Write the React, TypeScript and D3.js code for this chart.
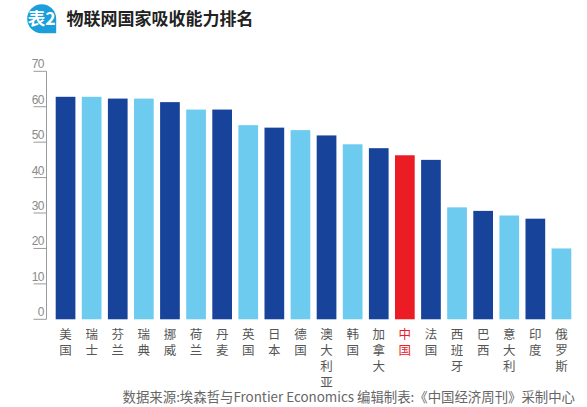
import * as d3 from 'd3';
import React from 'react';

// Data
const countries: string[] = [
    '美国', '瑞士', '芬兰', '瑞典', '挪威', '荷兰', '丹麦', '英国', '日本', '德国',
    '澳大利亚', '韩国', '加拿大', '中国', '法国', '西班牙', '巴西', '意大利', '印度', '俄罗斯',
];
const scores: number[] = [
    62.8, 62.8, 62.3, 62.3, 61.3, 59.2, 59.2, 54.8, 54.1, 53.4,
    51.9, 49.4, 48.3, 46.3, 45.0, 31.6, 30.6, 29.3, 28.4, 20.0,
];
const yTicks: number[] = [0, 10, 20, 30, 40, 50, 60, 70];
const highlight = '中国';

const title = '物联网国家吸收能力排名';
const badge = '表2';
const source = '数据来源:埃森哲与Frontier Economics 编辑制表:《中国经济周刊》采制中心';

const width = 587;
const height = 407;

const DARK = '#17449a';
const LIGHT = '#6dcbf0';
const RED = '#ec1c24';
const CJK = '"Noto Sans CJK SC", "Noto Sans", sans-serif';

const App = (): React.ReactElement => {
    const x = d3.scaleBand<string>()
        .domain(countries)
        .range([52.5, 574.5])
        .paddingInner(0.245)
        .paddingOuter(0.1225);
    const y = d3.scaleLinear().domain([0, 70]).range([319.3, 71.3]);

    const axisX = 46.5;

    // Badge: circle with a pointed bottom-right corner
    const cx = 41.7;
    const cy = 18.7;
    const r = 14.5;
    const badgePath = `M${cx - r},${cy} A${r},${r} 0 0 1 ${cx},${cy - r} A${r},${r} 0 0 1 ${cx + r},${cy} L${cx + r},${cy + r} L${cx},${cy + r} A${r},${r} 0 0 1 ${cx - r},${cy} Z`;

    return (
        <svg
            width={width}
            height={height}
            style={{ position: 'absolute', left: 0, top: 0, background: '#fff' }}
        >
            {/* Title */}
            <path d={badgePath} fill="#1a9fdc" />
            <text x={cx} y={cy + 6.5} textAnchor="middle" fill="#fff" fontSize={17.5} fontWeight="bold" fontFamily={CJK}>
                {badge}
            </text>
            <text x={66.5} y={25} fill="#222" fontSize={17} fontWeight="bold" fontFamily={CJK}>
                {title}
            </text>

            {/* Y axis */}
            <line x1={axisX} x2={axisX} y1={y(70)} y2={y(0)} stroke="#9a9a9a" strokeWidth={1} />
            {yTicks.map((t) => (
                <g key={t}>
                    <line x1={33.5} x2={axisX} y1={y(t)} y2={y(t)} stroke="#9a9a9a" strokeWidth={1} />
                    <text
                        x={44}
                        y={y(t) - 3}
                        textAnchor="end"
                        fill="#8a8a8a"
                        fontSize={12}
                        fontFamily='"Liberation Sans", Arial, sans-serif'
                        letterSpacing={-0.5}
                    >
                        {t}
                    </text>
                </g>
            ))}

            {/* Bars */}
            {countries.map((c, i) => (
                <rect
                    key={c}
                    x={x(c)}
                    y={y(scores[i])}
                    width={x.bandwidth()}
                    height={y(0) - y(scores[i])}
                    fill={c === highlight ? RED : i % 2 === 0 ? DARK : LIGHT}
                />
            ))}

            {/* Vertical category labels, one character per line */}
            {countries.map((c) =>
                Array.from(c).map((ch, j) => (
                    <text
                        key={c + j}
                        x={(x(c) as number) + x.bandwidth() / 2}
                        y={338.5 + j * 16.1}
                        textAnchor="middle"
                        fill={c === highlight ? RED : '#555'}
                        fontSize={12.5}
                        fontFamily={CJK}
                    >
                        {ch}
                    </text>
                ))
            )}

            {/* Source */}
            <text x={575} y={402} textAnchor="end" fill="#666" fontSize={13.4} fontFamily={CJK}>
                {source}
            </text>
        </svg>
    );
};

export default App;
